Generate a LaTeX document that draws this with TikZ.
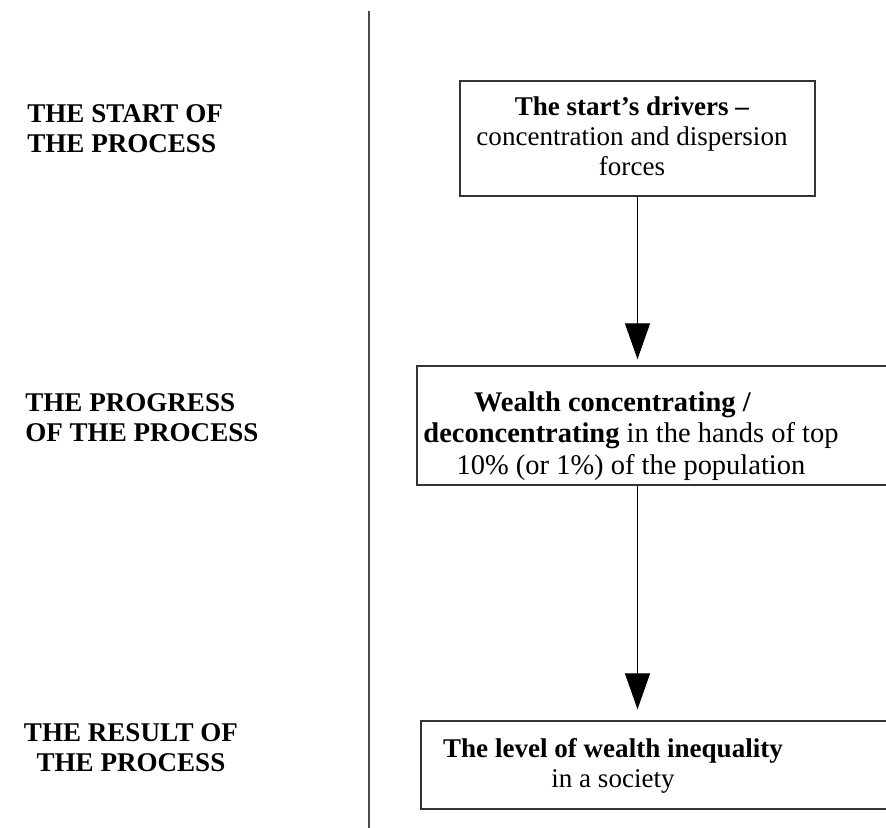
\documentclass[tikz,border=0pt]{standalone}
\usepackage{fontspec}
\setmainfont{Liberation Serif}
\usetikzlibrary{arrows.meta}

\begin{document}
\begin{tikzpicture}[x=0.02cm,y=-0.02cm,
  box/.style={draw=black!80, line width=0.8pt, inner sep=0pt},
  txt/.style={align=center, inner sep=0pt, font=\fontsize{15.4}{17}\selectfont},
  stage/.style={inner sep=0pt, font=\fontsize{15.4}{17}\selectfont\bfseries},
  flow/.style={-{Triangle[width=0.5cm,length=0.72cm]}, line width=0.7pt}]

\useasboundingbox (0,0) rectangle (886,828);

% Coordinates for the dividing line
\coordinate (top) at (369,11);
\coordinate (bot) at (369,830);
\draw[black!70, line width=1pt] (top) -- (bot);

% Stage names on the left
\node[stage, anchor=west, align=left] (start) at (27,129) {THE START OF\\THE PROCESS};
\node[stage, anchor=west, align=left] (progress) at (25,418) {THE PROGRESS\\OF THE PROCESS};
\node[stage, align=center] (result) at (131,748) {THE RESULT OF\\THE PROCESS};

% Draw the boxes
\node[box, minimum width=7.1cm, minimum height=2.3cm] (drivers) at (637.5,138.5) {};
\node[box, minimum width=9.46cm, minimum height=2.38cm] (wealth) at (653.5,425.5) {};
\node[box, minimum width=9.38cm, minimum height=1.76cm] (level) at (655.5,765) {};

% Texts inside the boxes
\node[txt] (driverstxt) at (632,136) {\textbf{The start’s drivers --}\\concentration and dispersion\\forces};
\node[txt, font=\fontsize{16.2}{18}\selectfont] (wealthtxt) at (631,436)
  {\textbf{Wealth concentrating /}\hspace*{1.3em}\\\textbf{deconcentrating} in the hands of top\\10\% (or 1\%) of the population};
\node[txt] (leveltxt) at (613,766) {\textbf{The level of wealth inequality}\\in a society};

% Draw the arrows
\draw[flow, shorten >=0.12cm] (drivers.south) -- (drivers.south |- wealth.north);
\draw[flow, shorten >=0.22cm] (wealth.south -| drivers.south) -- (level.north -| drivers.south);

\end{tikzpicture}
\end{document}
